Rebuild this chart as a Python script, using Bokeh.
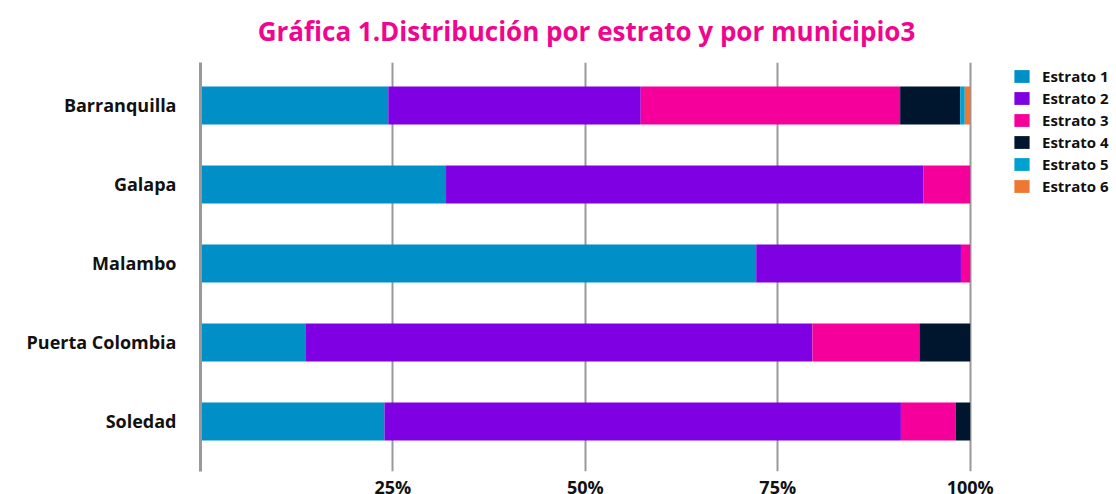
from bokeh.plotting import figure
from bokeh.embed import file_html
from bokeh.resources import INLINE
from bokeh.models import ColumnDataSource, FixedTicker, Legend, Range1d

municipios = ["Barranquilla", "Galapa", "Malambo", "Puerta Colombia", "Soledad"]
estratos = ["Estrato 1", "Estrato 2", "Estrato 3", "Estrato 4", "Estrato 5", "Estrato 6"]
e1 = [0.244, 0.319, 0.722, 0.137, 0.239]
e2 = [0.328, 0.620, 0.266, 0.658, 0.671]
e3 = [0.337, 0.061, 0.012, 0.139, 0.071]
e4 = [0.078, 0.000, 0.000, 0.066, 0.019]
e5 = [0.006, 0.000, 0.000, 0.000, 0.000]
e6 = [0.007, 0.000, 0.000, 0.000, 0.000]
colors = ["#008FC6", "#7F00E2", "#F5009B", "#00152E", "#00A1D1", "#EE7733"]
tick_vals = [0, 0.25, 0.5, 0.75, 1.0]
tick_labels = ["", "25%", "50%", "75%", "100%"]
title_text = "Gráfica 1.Distribución por estrato y por municipio3"

n = len(municipios)
ypos = [n - 1 - i for i in range(n)]

src = ColumnDataSource(dict(y=ypos, m=municipios, **{estratos[0]: e1, estratos[1]: e2, estratos[2]: e3,
                                                      estratos[3]: e4, estratos[4]: e5, estratos[5]: e6}))

FONT = "Open Sans"
Y0, Y1 = -0.633, n - 1 + 0.544
p = figure(y_range=Range1d(Y0, Y1), x_range=Range1d(0, 1.003),
           frame_width=772, frame_height=409,
           min_border_left=200, min_border_top=62, min_border_bottom=23, min_border_right=144,
           output_backend="svg", toolbar_location=None, title=title_text)
p.outline_line_color = None
p.title.align = "center"
p.title.vertical_align = "top"
p.title.text_color = "#F0068E"
p.title.text_font = FONT
p.title.text_font_size = "26px"
p.title.text_font_style = "bold"
p.title.offset = 0
p.title.standoff = 24

r = p.hbar_stack(estratos, y="y", height=0.48, color=colors, source=src, line_width=0)

p.xaxis.ticker = FixedTicker(ticks=tick_vals)
p.xaxis.major_label_overrides = {v: l for v, l in zip(tick_vals, tick_labels)}
p.xaxis.axis_line_color = None
p.xaxis.major_tick_line_color = None
p.xaxis.major_tick_out = 0
p.xaxis.minor_tick_line_color = None
p.xaxis.minor_tick_out = 0
p.xaxis.major_label_text_font = FONT
p.xaxis.major_label_text_font_style = "bold"
p.xaxis.major_label_text_font_size = "18px"
p.xaxis.major_label_text_color = "#111111"
p.xaxis.major_label_standoff = 3

p.yaxis.ticker = FixedTicker(ticks=ypos)
p.yaxis.major_label_overrides = {y: m for y, m in zip(ypos, municipios)}
p.yaxis.axis_line_color = "#999999"
p.yaxis.axis_line_width = 3
p.yaxis.major_tick_line_color = None
p.yaxis.major_tick_out = 0
p.yaxis.minor_tick_line_color = None
p.yaxis.minor_tick_out = 0
p.yaxis.major_label_text_font = FONT
p.yaxis.major_label_text_font_style = "bold"
p.yaxis.major_label_text_font_size = "18px"
p.yaxis.major_label_text_color = "#111111"
p.yaxis.major_label_standoff = 24

p.xgrid.grid_line_color = "#999999"
p.xgrid.grid_line_width = 2
p.ygrid.grid_line_color = None

legend = Legend(items=[(e, [rr]) for e, rr in zip(estratos, r)], location=(40, 275),
                label_text_font=FONT, label_text_font_style="bold", label_text_font_size="15px",
                label_text_color="#111111", glyph_width=19, glyph_height=16, spacing=2,
                label_standoff=11, padding=0, margin=0, border_line_color=None,
                background_fill_alpha=0, label_height=16)
p.add_layout(legend, "right")

open("out.html", "w").write(file_html(p, INLINE))
